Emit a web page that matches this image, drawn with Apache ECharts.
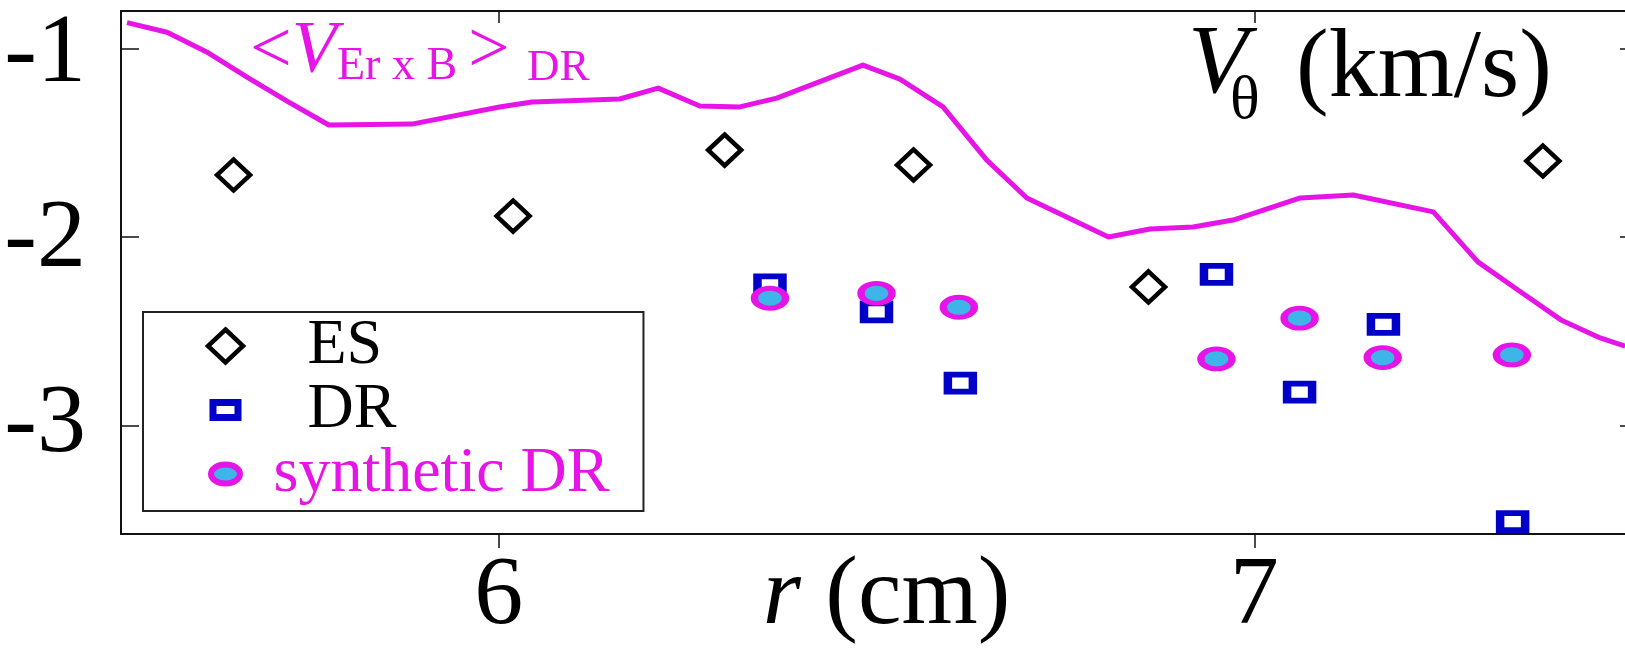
<!DOCTYPE html>
<html>
<head>
<meta charset="utf-8">
<script src="https://cdn.jsdelivr.net/npm/echarts@6/dist/echarts.min.js"></script>
<style>
  html, body { margin: 0; padding: 0; background: #fff; }
  #chart { width: 1625px; height: 653px; }
</style>
</head>
<body>
<div id="chart"></div>
<script>
// r (cm) / V_theta (km/s)
const esR = [5.649, 6.019, 6.299, 6.549, 6.860, 7.382];
const esV = [-1.672, -1.890, -1.540, -1.619, -2.266, -1.598];

const drR = [6.359, 6.500, 6.611, 6.950, 7.060, 7.171, 7.342];
const drV = [-2.255, -2.398, -2.777, -2.200, -2.824, -2.465, -3.511];

const synR = [6.359, 6.500, 6.609, 6.950, 7.060, 7.170, 7.341];
const synV = [-2.326, -2.300, -2.374, -2.648, -2.432, -2.641, -2.627];

// <V_ExB>_DR profile
const exbR = [5.508, 5.561, 5.616, 5.669, 5.722, 5.775, 5.885, 6.001, 6.044, 6.160,
  6.211, 6.266, 6.319, 6.368, 6.482, 6.531, 6.588, 6.646, 6.699, 6.807,
  6.862, 6.919, 6.972, 7.061, 7.131, 7.237, 7.296, 7.349, 7.406, 7.458, 7.491];
const exbV = [-0.864, -0.915, -1.025, -1.158, -1.285, -1.407, -1.402, -1.311, -1.285, -1.269,
  -1.211, -1.306, -1.311, -1.264, -1.089, -1.163, -1.311, -1.593, -1.794, -2.001,
  -1.959, -1.948, -1.911, -1.794, -1.778, -1.868, -2.133, -2.282, -2.441, -2.537, -2.580];

const xTicks = [6, 7];
const yTicks = [-3, -2, -1];

const MAG = '#e614e6';
const BLUE = '#0000c8';
const CYAN = '#3db5e8';
const SERIF = 'Liberation Serif';

const pairs = (xs, ys) => xs.map((x, i) => [x, ys[i]]);

const chart = echarts.init(document.getElementById('chart'), null, { renderer: 'canvas' });

const xBase = { type: 'value', min: 5.5, max: 7.5, splitLine: { show: false } };
const yBase = { type: 'value', min: -3.577, max: -0.802, splitLine: { show: false } };

chart.setOption({
  animation: false,
  backgroundColor: '#fff',
  grid: { left: 121, right: -7, top: 11, bottom: 119, containLabel: false, outerBoundsMode: 'none' },
  xAxis: [
    Object.assign({}, xBase, {
      position: 'bottom',
      axisLine: { lineStyle: { color: '#111', width: 2 } },
      axisTick: { inside: false, length: 14, lineStyle: { color: '#111', width: 1.5 }, customValues: xTicks },
      axisLabel: {
        customValues: xTicks, margin: 14.5,
        fontFamily: SERIF, fontSize: 98, lineHeight: 98, color: '#000'
      },
      name: '{i|r}{n| (cm)}',
      nameLocation: 'middle',
      nameGap: 14.5,
      nameMoveOverlap: false,
      nameTextStyle: {
        padding: [0, 0, 0, 20],
        rich: {
          i: { fontFamily: SERIF, fontStyle: 'italic', fontSize: 98, lineHeight: 98, color: '#000' },
          n: { fontFamily: SERIF, fontSize: 98, lineHeight: 98, color: '#000' }
        }
      }
    }),
    Object.assign({}, xBase, {
      position: 'top',
      axisLine: { lineStyle: { color: '#111', width: 2 } },
      axisTick: { inside: true, length: 12, lineStyle: { color: '#111', width: 1.5 }, customValues: xTicks },
      axisLabel: { show: false }
    })
  ],
  yAxis: [
    Object.assign({}, yBase, {
      position: 'left',
      axisLine: { show: true, lineStyle: { color: '#111', width: 2 } },
      axisTick: { show: true, inside: true, length: 18, lineStyle: { color: '#111', width: 1.5 }, customValues: yTicks },
      axisLabel: {
        customValues: yTicks, margin: 35,
        formatter: function (v) {
          if (v === -1) return '{a|-1}';
          if (v === -2) return '{b|-2}';
          return '{c|' + v + '}';
        },
        rich: {
          a: { fontFamily: SERIF, fontSize: 98, color: '#000', padding: [13, 0, 0, 0] },
          b: { fontFamily: SERIF, fontSize: 98, color: '#000', padding: [6, 0, 0, 0] },
          c: { fontFamily: SERIF, fontSize: 98, color: '#000' }
        }
      }
    }),
    Object.assign({}, yBase, {
      position: 'right',
      axisLine: { show: true, lineStyle: { color: '#111', width: 2 } },
      axisTick: { show: true, inside: true, length: 12, lineStyle: { color: '#111', width: 1.5 }, customValues: yTicks },
      axisLabel: { show: false }
    })
  ],
  legend: {
    orient: 'vertical',
    left: 143,
    top: 312,
    padding: [2, 34, 5, 59],
    itemGap: 0,
    itemWidth: 40,
    itemHeight: 38,
    borderColor: '#222',
    borderWidth: 2,
    selectedMode: false,
    textStyle: { fontFamily: SERIF, fontSize: 64, lineHeight: 56, color: '#000' },
    data: [
      {
        name: 'ES',
        icon: 'path://M0,0M40,38M20,2.5L37.5,19L20,35.5L2.5,19Z',
        itemStyle: { color: 'rgba(0,0,0,0)', borderColor: '#000', borderWidth: 4.5, opacity: 1 },
        textStyle: { color: '#000', padding: [0, 0, 0, 57] }
      },
      {
        name: 'DR',
        icon: 'path://M0,0M40,38M7.5,11.5L32.5,11.5L32.5,26.5L7.5,26.5Z',
        itemStyle: { color: '#fff', borderColor: BLUE, borderWidth: 7, opacity: 1 },
        textStyle: { color: '#000', padding: [0, 0, 0, 57] }
      },
      {
        name: 'synthetic DR',
        icon: 'path://M0,0M40,38M5.5,19A14.5,9.5 0 1,1 34.5,19A14.5,9.5 0 1,1 5.5,19Z',
        itemStyle: { color: CYAN, borderColor: MAG, borderWidth: 6, opacity: 1 },
        textStyle: { color: MAG, padding: [0, 0, 0, 23] }
      }
    ]
  },
  graphic: [
    {
      type: 'text', x: 250, y: 52.5, silent: true,
      style: {
        text: '{n|<}{i|V}', fill: MAG, align: 'left', verticalAlign: 'middle',
        rich: {
          n: { fontFamily: SERIF, fontSize: 74, fill: MAG },
          i: { fontFamily: SERIF, fontStyle: 'italic', fontSize: 74, fill: MAG }
        }
      }
    },
    {
      type: 'text', x: 337, y: 66.5, silent: true,
      style: { text: 'Er x B', fill: MAG, font: '46px "Liberation Serif"', align: 'left', verticalAlign: 'middle' }
    },
    {
      type: 'text', x: 468, y: 52.5, silent: true,
      style: { text: '>', fill: MAG, font: '74px "Liberation Serif"', align: 'left', verticalAlign: 'middle' }
    },
    {
      type: 'text', x: 527, y: 68, silent: true,
      style: { text: 'DR', fill: MAG, font: '45px "Liberation Serif"', align: 'left', verticalAlign: 'middle' }
    },
    {
      type: 'text', x: 1188, y: 66.5, silent: true,
      style: { text: 'V', fill: '#000', font: 'italic 98px "Liberation Serif"', align: 'left', verticalAlign: 'middle' }
    },
    {
      type: 'text', x: 1230, y: 102, silent: true,
      style: { text: 'θ', fill: '#000', font: '62px "Liberation Serif"', align: 'left', verticalAlign: 'middle' }
    },
    {
      type: 'text', x: 1296, y: 70, silent: true,
      style: { text: '(km/s)', fill: '#000', font: '98px "Liberation Serif"', align: 'left', verticalAlign: 'middle' }
    }
  ],
  series: [
    {
      name: 'ExB',
      type: 'line',
      xAxisIndex: 0, yAxisIndex: 0,
      data: pairs(exbR, exbV),
      showSymbol: false,
      symbol: 'none',
      lineStyle: { color: MAG, width: 5, join: 'round', opacity: 1 },
      silent: true,
      z: 1
    },
    {
      name: 'ES',
      type: 'scatter',
      data: pairs(esR, esV),
      symbol: 'diamond',
      symbolSize: [33, 31],
      itemStyle: { color: 'rgba(0,0,0,0)', borderColor: '#000', borderWidth: 4.5, opacity: 1 },
      silent: true,
      z: 2
    },
    {
      name: 'DR',
      type: 'scatter',
      data: pairs(drR, drV),
      symbol: 'rect',
      symbolSize: [25, 17],
      itemStyle: { color: '#fff', borderColor: BLUE, borderWidth: 7, opacity: 1 },
      silent: true,
      z: 3
    },
    {
      name: 'synthetic DR',
      type: 'scatter',
      data: pairs(synR, synV),
      symbol: 'circle',
      symbolSize: [31, 20],
      itemStyle: { color: CYAN, borderColor: MAG, borderWidth: 6, opacity: 1 },
      silent: true,
      z: 4
    }
  ]
});
</script>
</body>
</html>
